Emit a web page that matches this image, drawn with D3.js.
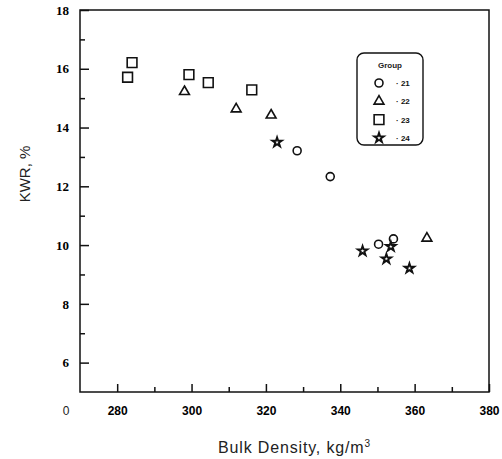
<!DOCTYPE html>
<meta charset="utf-8">
<script src="https://d3js.org/d3.v7.min.js"></script>
<style>
body { margin: 0; background: #fff; }
.ytick text { font: bold 13px "Liberation Serif", serif; fill: #000; }
.xtick text { font: bold 12px "Liberation Sans", sans-serif; fill: #000; }
</style>
<div id="chart"></div>
<script>

// groups and points (bulk density, KWR %)
var groups = ["21", "22", "23", "24"];
var group21 = [[328.4, 13.21], [337.3, 12.33], [350.3, 10.03], [354.3, 10.21]];
var group22 = [[298.1, 15.22], [312.0, 14.63], [321.4, 14.42], [363.3, 10.23]];
var group23 = [[282.8, 15.71], [284.0, 16.21], [299.3, 15.80], [304.5, 15.53], [316.2, 15.28]];
var group24 = [[323.0, 13.50], [346.0, 9.80], [353.6, 9.95], [352.4, 9.53], [358.6, 9.21]];
var xTicks = [280, 300, 320, 340, 360, 380];
var yTicks = [6, 8, 10, 12, 14, 16, 18];

var width = 502, height = 459;
var margin = {top: 10, right: 13, bottom: 67, left: 80};

var svg = d3.select("#chart").append("svg")
  .attr("width", width).attr("height", height);

var x = d3.scaleLinear().domain([270, 380]).range([margin.left, width - margin.right]);
var y = d3.scaleLinear().domain([5, 18]).range([height - margin.bottom, margin.top]);

// frame
svg.append("rect")
  .attr("x", x(270)).attr("y", y(18))
  .attr("width", x(380) - x(270)).attr("height", y(5) - y(18))
  .attr("fill", "none").attr("stroke", "#111").attr("stroke-width", 1.5);

// x axis, ticks pointing in
svg.append("g").attr("class", "xtick")
  .attr("transform", "translate(0," + y(5) + ")")
  .call(d3.axisBottom(x).tickValues(xTicks).tickSize(-8).tickPadding(14).tickFormat(d3.format("d")));
svg.append("g")
  .attr("transform", "translate(0," + y(5) + ")")
  .call(d3.axisBottom(x).tickValues([290, 310, 330, 350, 370]).tickSize(-5).tickFormat(""));

// y axis, ticks pointing in
svg.append("g").attr("class", "ytick")
  .attr("transform", "translate(" + x(270) + ",0)")
  .call(d3.axisLeft(y).tickValues(yTicks).tickSize(-9).tickPadding(11).tickFormat(d3.format("d")));
svg.append("g")
  .attr("transform", "translate(" + x(270) + ",0)")
  .call(d3.axisLeft(y).tickValues([7, 9, 11, 13, 15, 17]).tickSize(-5).tickFormat(""));

svg.selectAll(".domain").remove();
svg.selectAll(".tick line").attr("stroke", "#111").attr("stroke-width", 1.5);

// stray origin label
svg.append("text")
  .attr("x", 66).attr("y", y(5) + 23)
  .attr("text-anchor", "middle")
  .style("font", "12px 'Liberation Sans', sans-serif")
  .style("fill", "#222")
  .text("0");

// axis titles
var xt = svg.append("text")
  .attr("x", 294).attr("y", 453)
  .attr("text-anchor", "middle")
  .attr("textLength", 152).attr("lengthAdjust", "spacing")
  .style("font", "16px 'Liberation Sans', sans-serif")
  .style("fill", "#222")
  .text("Bulk Density, kg/m");
xt.append("tspan").attr("dy", -6).style("font-size", "10px").text("3");

svg.append("text")
  .attr("transform", "translate(30,174) rotate(-90)")
  .attr("text-anchor", "middle")
  .style("font", "15px 'Liberation Sans', sans-serif")
  .style("fill", "#222")
  .text("KWR, %");

// markers
var shapes = {
  "21": {type: d3.symbolCircle, size: 50},
  "22": {type: d3.symbolTriangle, size: 42},
  "23": {type: d3.symbolSquare, size: 95},
  "24": {type: d3.symbolStar, size: 28}
};
var series = [group21, group22, group23, group24];

series.forEach(function(pts, i) {
  var s = shapes[groups[i]];
  svg.append("g").selectAll("path")
    .data(pts).enter().append("path")
      .attr("transform", function(d) { return "translate(" + x(d[0]) + "," + y(d[1]) + ")"; })
      .attr("d", d3.symbol().type(s.type).size(s.size))
      .attr("fill", "white").attr("stroke", "#111")
      .attr("stroke-width", groups[i] == "24" ? 1.9 : 1.6);
});

// legend
var lg = svg.append("g");
lg.append("rect")
  .attr("x", 357).attr("y", 53).attr("width", 66).attr("height", 92)
  .attr("rx", 7).attr("fill", "white").attr("stroke", "#111").attr("stroke-width", 1.4);
lg.append("text")
  .attr("x", 390).attr("y", 68).attr("text-anchor", "middle")
  .style("font", "bold 8px 'Liberation Sans', sans-serif")
  .style("fill", "#222")
  .text("Group");
groups.forEach(function(g, i) {
  var yy = 83 + i * 18.3;
  var s = shapes[g];
  lg.append("path")
    .attr("transform", "translate(379," + yy + ")")
    .attr("d", d3.symbol().type(s.type).size(s.size))
    .attr("fill", "white").attr("stroke", "#111")
    .attr("stroke-width", g == "24" ? 1.9 : 1.6);
  lg.append("text")
    .attr("x", 396).attr("y", yy + 3)
    .style("font", "bold 8px 'Liberation Sans', sans-serif")
    .style("fill", "#111")
    .text("\u00b7  " + g);
});

</script>
